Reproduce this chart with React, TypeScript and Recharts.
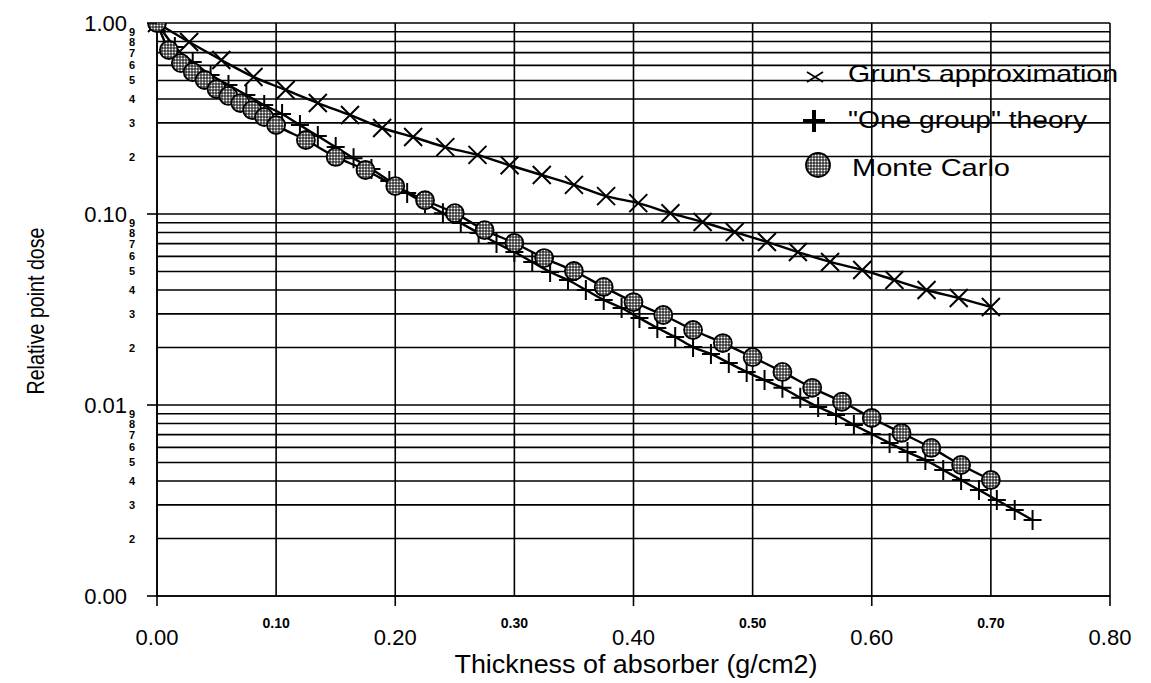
import { LineChart, Line, XAxis, YAxis, CartesianGrid, Legend } from "recharts";

const FONT = '"Liberation Sans", Arial, sans-serif';

// Grun's approximation
const grunX = [0, 0.027, 0.054, 0.081, 0.108, 0.135, 0.162, 0.189, 0.215, 0.242, 0.269, 0.296, 0.323, 0.35, 0.377, 0.404, 0.431, 0.458, 0.485, 0.512, 0.538, 0.565, 0.592, 0.619, 0.646, 0.673, 0.7];
const grunY = [1.0, 0.795, 0.64, 0.522, 0.446, 0.381, 0.33, 0.282, 0.253, 0.224, 0.204, 0.18, 0.16, 0.142, 0.124, 0.114, 0.101, 0.0908, 0.0805, 0.0714, 0.0632, 0.0561, 0.0509, 0.0451, 0.04, 0.0363, 0.0326];

// "One group" theory
const oneGroupX = [0, 0.015, 0.03, 0.045, 0.06, 0.075, 0.09, 0.105, 0.12, 0.135, 0.15, 0.165, 0.18, 0.195, 0.21, 0.225, 0.24, 0.255, 0.27, 0.285, 0.3, 0.315, 0.33, 0.345, 0.36, 0.375, 0.39, 0.405, 0.42, 0.435, 0.45, 0.465, 0.48, 0.495, 0.51, 0.525, 0.54, 0.555, 0.57, 0.585, 0.6, 0.615, 0.63, 0.645, 0.66, 0.675, 0.69, 0.705, 0.72, 0.735];
const oneGroupY = [1.0, 0.749, 0.625, 0.534, 0.474, 0.42, 0.372, 0.334, 0.292, 0.256, 0.224, 0.196, 0.172, 0.149, 0.129, 0.114, 0.101, 0.0897, 0.0795, 0.0705, 0.0632, 0.0561, 0.0497, 0.0451, 0.04, 0.0355, 0.0322, 0.0285, 0.0253, 0.0227, 0.0201, 0.0185, 0.0166, 0.0149, 0.0135, 0.0123, 0.0109, 0.00976, 0.00886, 0.00786, 0.00705, 0.00632, 0.00567, 0.00515, 0.00457, 0.00405, 0.00359, 0.00318, 0.00282, 0.0025];

// Monte Carlo
const mcX = [0, 0.01, 0.02, 0.03, 0.04, 0.05, 0.06, 0.07, 0.08, 0.09, 0.1, 0.125, 0.15, 0.175, 0.2, 0.225, 0.25, 0.275, 0.3, 0.325, 0.35, 0.375, 0.4, 0.425, 0.45, 0.475, 0.5, 0.525, 0.55, 0.575, 0.6, 0.625, 0.65, 0.675, 0.7];
const mcY = [1.0, 0.722, 0.617, 0.554, 0.503, 0.451, 0.415, 0.381, 0.35, 0.322, 0.292, 0.244, 0.199, 0.17, 0.14, 0.118, 0.101, 0.0824, 0.0705, 0.0588, 0.0503, 0.0415, 0.0346, 0.0296, 0.0247, 0.0211, 0.0178, 0.0149, 0.0123, 0.0104, 0.00855, 0.00714, 0.00596, 0.00485, 0.00405];

const xTicks = [0, 0.1, 0.2, 0.3, 0.4, 0.5, 0.6, 0.7, 0.8];
const yTicks = [
  0.001, 0.002, 0.003, 0.004, 0.005, 0.006, 0.007, 0.008, 0.009,
  0.01, 0.02, 0.03, 0.04, 0.05, 0.06, 0.07, 0.08, 0.09,
  0.1, 0.2, 0.3, 0.4, 0.5, 0.6, 0.7, 0.8, 0.9, 1,
];
const seriesNames = ["Grun's approximation", '"One group" theory', "Monte Carlo"];

const zip = (xs: number[], ys: number[]) => xs.map((x, i) => ({ x, y: ys[i] }));

const PLOT_LEFT = 157;
const PLOT_BOTTOM = 596;

function YTick({ y, payload }: any) {
  const v = payload.value;
  const exp = Math.floor(Math.log10(v) + 1e-9);
  const digit = Math.round(v / Math.pow(10, exp));
  if (digit === 1) {
    return (
      <g>
        <line x1={PLOT_LEFT - 10} x2={PLOT_LEFT} y1={y} y2={y} stroke="#000" strokeWidth={1.6} />
        <text x={127} y={y} dy={8} textAnchor="end" fontSize={22} fontFamily={FONT} fill="#000">
          {v.toFixed(2)}
        </text>
      </g>
    );
  }
  return (
    <text x={132} y={y} dy={4} textAnchor="middle" fontSize={11} fontWeight="bold" fontFamily={FONT} fill="#000">
      {digit}
    </text>
  );
}

function XTick({ x, payload }: any) {
  const v = payload.value;
  const i = Math.round(v * 10);
  if (i % 2 === 0) {
    return (
      <g>
        <line x1={x} x2={x} y1={PLOT_BOTTOM} y2={PLOT_BOTTOM + 10} stroke="#000" strokeWidth={1.6} />
        <text x={x} y={645} textAnchor="middle" fontSize={22} fontFamily={FONT} fill="#000">
          {v.toFixed(2)}
        </text>
      </g>
    );
  }
  return (
    <text x={x} y={628} textAnchor="middle" fontSize={14} fontWeight="bold" fontFamily={FONT} fill="#000">
      {v.toFixed(2)}
    </text>
  );
}

const crossDot = (p: any) => {
  const { cx, cy, index } = p;
  if (cx == null || cy == null) return <g key={`gx${index}`} />;
  const s = 9;
  return (
    <path
      key={`gx${index}`}
      d={`M${cx - s},${cy - s}L${cx + s},${cy + s}M${cx - s},${cy + s}L${cx + s},${cy - s}`}
      stroke="#000"
      strokeWidth={2}
      fill="none"
    />
  );
};

const plusDot = (p: any) => {
  const { cx, cy, index } = p;
  if (cx == null || cy == null) return <g key={`og${index}`} />;
  return (
    <path
      key={`og${index}`}
      d={`M${cx - 9},${cy}L${cx + 9},${cy}M${cx},${cy - 10}L${cx},${cy + 10}`}
      stroke="#000"
      strokeWidth={2}
      fill="none"
    />
  );
};

const circleDot = (p: any) => {
  const { cx, cy, index } = p;
  if (cx == null || cy == null) return <g key={`mc${index}`} />;
  return <circle key={`mc${index}`} cx={cx} cy={cy} r={9} fill="url(#stipple)" stroke="#000" strokeWidth={1.8} />;
};

function LegendBox() {
  return (
    <svg width={340} height={140} style={{ overflow: "visible" }}>
      <path d="M17,17L33,27M17,27L33,17" stroke="#000" strokeWidth={1.6} fill="none" />
      <text x={58} y={27} fontSize={24} fontFamily={FONT} fill="#000" textLength={270} lengthAdjust="spacingAndGlyphs">
        {seriesNames[0]}
      </text>
      <path d="M13,66L35,66M24,55L24,77" stroke="#000" strokeWidth={4} fill="none" />
      <text x={58} y={73} fontSize={24} fontFamily={FONT} fill="#000" textLength={239} lengthAdjust="spacingAndGlyphs">
        {seriesNames[1]}
      </text>
      <circle cx={28} cy={110} r={12} fill="url(#stipple)" stroke="#000" strokeWidth={1.8} />
      <text x={62} y={121} fontSize={24} fontFamily={FONT} fill="#000" textLength={158} lengthAdjust="spacingAndGlyphs">
        {seriesNames[2]}
      </text>
    </svg>
  );
}

export default function App() {
  return (
    <div style={{ position: "absolute", left: 0, top: 0, width: 1151, height: 683, background: "#fff" }}>
      <LineChart width={1151} height={683} margin={{ top: 23, right: 41, left: 37, bottom: 27 }}>
        <defs>
          <pattern id="stipple" width={3} height={3} patternUnits="userSpaceOnUse">
            <rect width={3} height={3} fill="#333" />
            <circle cx={1.5} cy={1.5} r={1} fill="#fff" />
          </pattern>
        </defs>
        <CartesianGrid stroke="#000" strokeWidth={1.6} />
        <XAxis
          type="number"
          dataKey="x"
          domain={[0, 0.8]}
          ticks={xTicks}
          interval={0}
          height={60}
          tickLine={false}
          axisLine={{ stroke: "#000", strokeWidth: 1.6 }}
          tick={<XTick />}
          label={{
            content: () => (
              <text x={636} y={673} textAnchor="middle" fontSize={25} fontFamily={FONT} fill="#000" textLength={363} lengthAdjust="spacingAndGlyphs">
                Thickness of absorber (g/cm2)
              </text>
            ),
          }}
        />
        <YAxis
          type="number"
          scale="log"
          domain={[0.001, 1]}
          allowDataOverflow
          ticks={yTicks}
          interval={0}
          width={120}
          tickLine={false}
          axisLine={{ stroke: "#000", strokeWidth: 1.6 }}
          tick={<YTick />}
          label={{
            content: () => (
              <text
                x={44}
                y={311}
                transform="rotate(-90, 44, 311)"
                textAnchor="middle"
                fontSize={24}
                fontFamily={FONT}
                fill="#000"
                textLength={167}
                lengthAdjust="spacingAndGlyphs"
              >
                Relative point dose
              </text>
            ),
          }}
        />
        <Legend
          layout="vertical"
          align="center"
          verticalAlign="middle"
          wrapperStyle={{ left: 790, top: 55, width: 340, height: 140 }}
          content={() => <LegendBox />}
        />
        <Line
          data={zip(grunX, grunY)}
          dataKey="y"
          name={seriesNames[0]}
          type="monotone"
          stroke="#000"
          strokeWidth={2.4}
          dot={crossDot}
          activeDot={false}
          isAnimationActive={false}
        />
        <Line
          data={zip(oneGroupX, oneGroupY)}
          dataKey="y"
          name={seriesNames[1]}
          type="monotone"
          stroke="#000"
          strokeWidth={2.4}
          dot={plusDot}
          activeDot={false}
          isAnimationActive={false}
        />
        <Line
          data={zip(mcX, mcY)}
          dataKey="y"
          name={seriesNames[2]}
          type="monotone"
          stroke="#000"
          strokeWidth={2.4}
          dot={circleDot}
          activeDot={false}
          isAnimationActive={false}
        />
      </LineChart>
    </div>
  );
}
